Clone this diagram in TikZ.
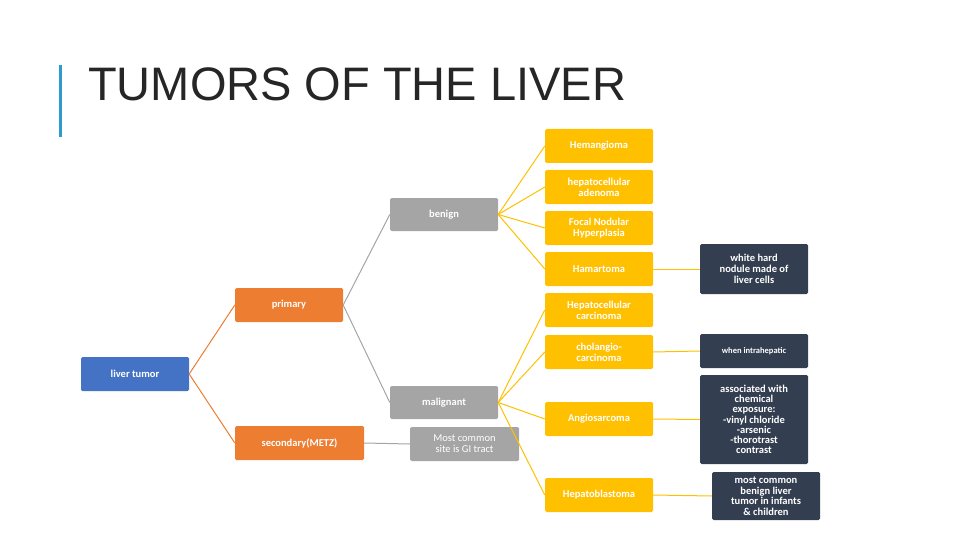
\documentclass[tikz,border=0pt]{standalone}
\usepackage{fontspec}
\setmainfont{Liberation Sans}
\newfontfamily\boxfont{Carlito}
\begin{document}
\begin{tikzpicture}[x=1pt,y=-1pt,
 bx/.style={draw=none,fill=#1,rounded corners=1.5pt,text=white,font=\boxfont\bfseries\fontsize{10.5}{11}\selectfont,align=center,inner sep=1pt},
 blue/.style={bx=blueB,minimum width=108pt,minimum height=34pt},
 org/.style={bx=orangeB,minimum height=34pt},
 gry/.style={bx=grayB,minimum width=108pt,minimum height=33pt},
 yel/.style={bx=yellowB,minimum width=108pt,minimum height=34pt},
 drk/.style={bx=darkB,minimum width=108pt},
 ln/.style={draw=#1,line width=1pt}]
\definecolor{blueB}{HTML}{4472C4}
\definecolor{orangeB}{HTML}{ED7D31}
\definecolor{grayB}{HTML}{A5A5A5}
\definecolor{yellowB}{HTML}{FFC000}
\definecolor{darkB}{HTML}{333F50}
\definecolor{barB}{HTML}{2E9CCB}
\useasboundingbox (0,0) rectangle (960,540);
\fill[barB] (59,65) rectangle (62,137);
\node[anchor=base west,inner sep=0,font=\fontsize{47}{50}\selectfont,text=black!85] (title) at (88,101) {TUMORS OF THE LIVER};
\node[blue] (lt) at (135,374) {liver tumor};
\node[org,minimum width=108pt] (pr) at (289,305) {primary};
\node[org,minimum width=129pt] (sec) at (299.5,443) {secondary(METZ)};
\node[gry] (ben) at (444,214.5) {benign};
\node[gry] (mal) at (444,402.5) {malignant};
\node[gry,minimum width=109pt,minimum height=34pt,font=\boxfont\fontsize{10.5}{11}\selectfont] (gi) at (464.5,444) {Most common\\site is GI tract};
\node[yel] (y1) at (599,146) {Hemangioma};
\node[yel] (y2) at (599,187) {hepatocellular\\adenoma};
\node[yel] (y3) at (599,228) {Focal Nodular\\Hyperplasia};
\node[yel] (y4) at (599,269) {Hamartoma};
\node[yel] (y5) at (599,310) {Hepatocellular\\carcinoma};
\node[yel] (y6) at (599,352) {cholangio-\\carcinoma};
\node[yel] (y7) at (599,419) {Angiosarcoma};
\node[yel] (y8) at (599,495) {Hepatoblastoma};
\node[drk,minimum height=50pt] (d1) at (754,269) {white hard\\nodule made of\\liver cells};
\node[drk,minimum height=34pt,font=\boxfont\bfseries\fontsize{8.5}{9}\selectfont] (d2) at (754,351) {when intrahepatic};
\node[drk,minimum height=89pt,font=\boxfont\bfseries\fontsize{10.5}{10.2}\selectfont] (d3) at (754,419.5) {associated with\\chemical\\exposure:\\-vinyl chloride\\-arsenic\\-thorotrast\\contrast};
\node[drk,minimum height=48pt,font=\boxfont\bfseries\fontsize{10.5}{10.5}\selectfont] (d4) at (766,496) {most common\\benign liver\\tumor in infants\\\& children};
\draw[ln=orangeB] (lt.east) -- (pr.west);
\draw[ln=orangeB] (lt.east) -- (sec.west);
\draw[ln=grayB] (pr.east) -- (ben.west);
\draw[ln=grayB] (pr.east) -- (mal.west);
\draw[ln=grayB] (sec.east) -- (gi.west);
\foreach \y in {y1,y2,y3,y4} \draw[ln=yellowB] (ben.east) -- (\y.west);
\foreach \y in {y5,y6,y7,y8} \draw[ln=yellowB] (mal.east) -- (\y.west);
\draw[ln=yellowB] (y4.east) -- (d1.west);
\draw[ln=yellowB] (y6.east) -- (d2.west);
\draw[ln=yellowB] (y7.east) -- (d3.west);
\draw[ln=yellowB] (y8.east) -- (d4.west);
\end{tikzpicture}
\end{document}
